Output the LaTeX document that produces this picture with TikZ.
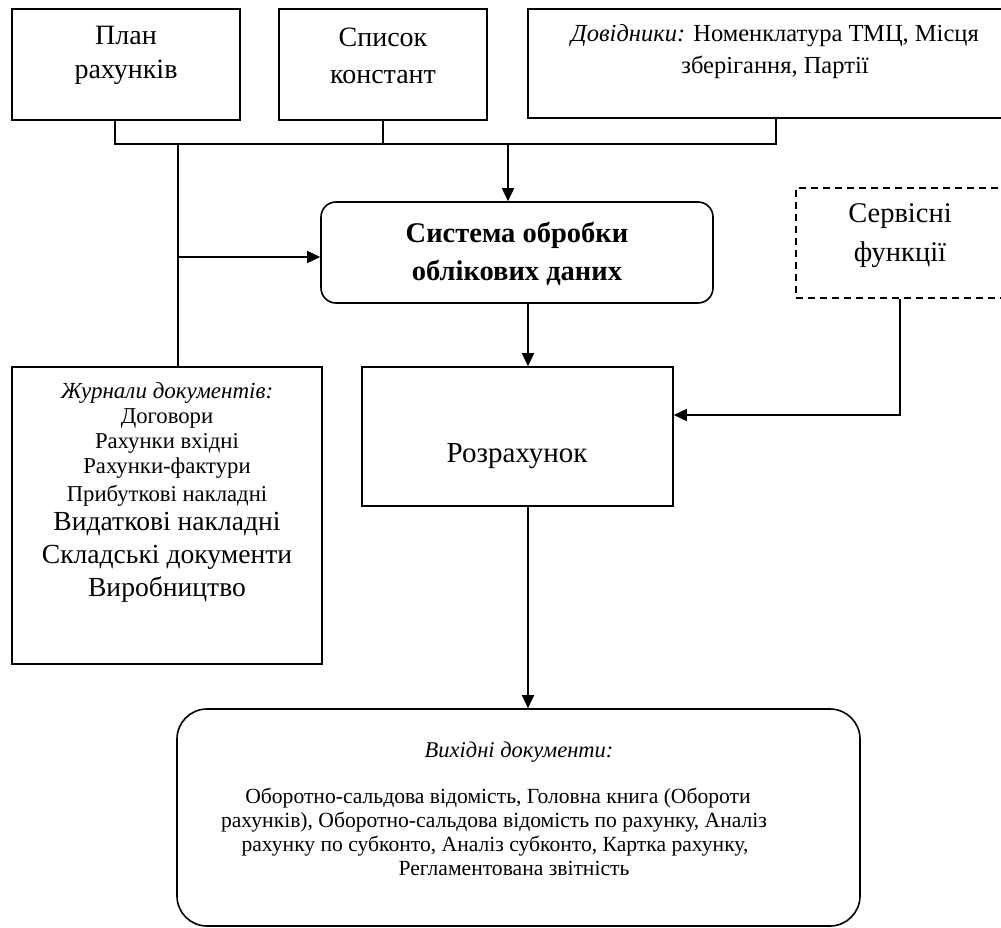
\documentclass[tikz,border=0pt]{standalone}
\usepackage{fontspec}
\setmainfont{Liberation Serif}
\usetikzlibrary{arrows.meta}

\begin{document}
\begin{tikzpicture}[x=1pt,y=-1pt,>={Triangle[length=13pt,width=12pt]},
  box/.style={draw,line width=1.6pt,inner sep=0pt},
  rbox/.style={box,rounded corners=15pt},
  txt/.style={align=center,inner sep=0pt},
  link/.style={line width=1.6pt}]
  \useasboundingbox (0,0) rectangle (1001,928);
  % top row
  \node[box,minimum width=228,minimum height=111] (plan) at (126,64.5) {};
  \node[box,minimum width=208,minimum height=111] (konst) at (383,64.5) {};
  \node[box,minimum width=482,minimum height=109] (dovid) at (769,63.5) {};
  \node[txt,font=\fontsize{28}{34}\selectfont] (planT) at (126,55) {План\\рахунків};
  \node[txt,font=\fontsize{28}{37}\selectfont] (konstT) at (383,56) {Список\\констант};
  \node[txt,font=\fontsize{24.5}{32}\selectfont] (dovidT) at (775,52)
    {\textit{Довідники:} Номенклатура ТМЦ, Місця\\зберігання, Партії};
  % middle row
  \node[rbox,minimum width=392,minimum height=101] (sys) at (517,252.5) {};
  \node[txt,font=\bfseries\fontsize{28.5}{38}\selectfont] (sysT) at (517,254)
    {Система обробки\\облікових даних};
  \node[box,dash pattern=on 7pt off 5pt,minimum width=214,minimum height=110] (serv) at (903,243) {};
  \node[txt,font=\fontsize{28.5}{39}\selectfont] (servT) at (900,236) {Сервісні\\функції};
  \node[box,minimum width=311,minimum height=139] (rozr) at (517.5,436.5) {};
  \node[txt,font=\fontsize{29}{35}\selectfont,anchor=base] (rozrT) at (517,462) {Розрахунок};
  % journals
  \node[box,minimum width=310,minimum height=297] (zhurn) at (167,515.5) {};
  \node[txt,font=\itshape\fontsize{23}{25}\selectfont,anchor=base] (zhurnT) at (167,398) {Журнали документів:};
  \foreach \yb/\t [count=\i] in {423/Договори,448/Рахунки вхідні,473/Рахунки-фактури,501/Прибуткові накладні}
    \node[txt,font=\fontsize{22.7}{25}\selectfont,anchor=base] (zhS\i) at (167,\yb) {\t};
  \foreach \yb/\t [count=\i] in {530/Видаткові накладні,563/Складські документи,596/Виробництво}
    \node[txt,font=\fontsize{27.6}{33}\selectfont,anchor=base] (zhL\i) at (167,\yb) {\t};
  % output documents
  \node[box,rounded corners=30pt,minimum width=683,minimum height=217] (vykh) at (518.5,817.5) {};
  \node[txt,font=\itshape\fontsize{22.5}{25}\selectfont,anchor=base] (vykhT) at (519,757) {Вихідні документи:};
  \foreach \xb/\yb/\t [count=\i] in {498/803/{Оборотно-сальдова відомість, Головна книга (Обороти},
      494/827/{рахунків), Оборотно-сальдова відомість по рахунку, Аналіз},
      495/851/{рахунку по субконто, Аналіз субконто, Картка рахунку,},
      514/875/{Регламентована звітність}}
    \node[txt,font=\fontsize{21.6}{24}\selectfont,anchor=base] (vykh\i) at (\xb,\yb) {\t};
  % bus under the top row
  \coordinate (busL) at (115,144);
  \coordinate (busR) at (776,144);
  \coordinate (busM) at (508,144);
  \coordinate (busJ) at (178,144);
  \coordinate (inJ) at (178,257);
  \coordinate (dn) at (528,0);
  \coordinate (servK) at (900,415);
  \draw[link] (plan.south -| busL) -- (busL) -- (busR) -- (dovid.south -| busR);
  \draw[link] (konst.south) -- (konst.south |- busL);
  \draw[link,->] (busM) -- (busM |- sys.north);
  \draw[link] (busJ) -- (busJ |- zhurn.north);
  \draw[link,->] (inJ) -- (inJ -| sys.west);
  % flow down
  \draw[link,->] (sys.south -| dn) -- (rozr.north -| dn);
  \draw[link,->] (serv.south -| servK) -- (servK) -- (servK -| rozr.east);
  \draw[link,->] (rozr.south -| dn) -- (vykh.north -| dn);
\end{tikzpicture}
\end{document}
